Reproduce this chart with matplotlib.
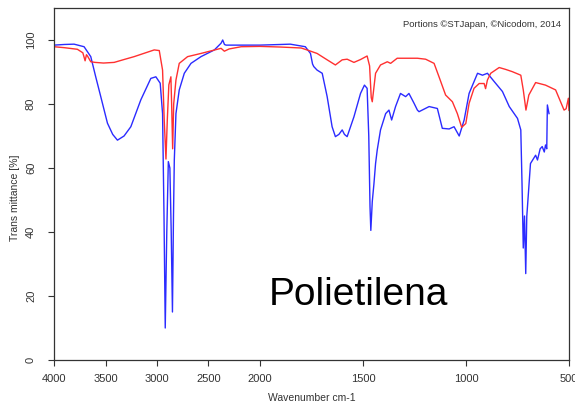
import numpy as np
import matplotlib
matplotlib.use("Agg")
import matplotlib.pyplot as plt

# ---- data ----
blue_wn = [4000, 3900, 3805, 3708, 3643, 3595, 3546, 3481, 3430, 3384, 3320, 3254, 3157, 3060,
           3011, 2969, 2946, 2932, 2920, 2905, 2890, 2875, 2862, 2850, 2840, 2832, 2816, 2784,
           2735, 2670, 2573, 2443, 2378, 2362, 2345, 2330, 2183, 2000, 1900, 1853, 1780, 1755,
           1745, 1739, 1723, 1698, 1674, 1650, 1634, 1617, 1601, 1590, 1577, 1544, 1512, 1493,
           1480, 1472, 1466, 1462, 1455, 1447, 1439, 1431, 1415, 1390, 1374, 1361, 1342, 1318,
           1293, 1277, 1252, 1236, 1228, 1179, 1139, 1115, 1082, 1058, 1033, 1009, 985, 944,
           920, 896, 863, 823, 790, 750, 734, 728, 722, 716, 710, 705, 695, 687, 662, 653, 640,
           630, 620, 614, 608, 605, 597]
blue_t = [98.4, 98.6, 98.7, 97.9, 94.8, 88.5, 82.3, 74.0, 70.5, 68.7, 70.0, 72.9, 81.3, 88.0,
          88.5, 86.5, 77.0, 45.0, 10.0, 40.0, 62.0, 60.0, 40.0, 15.0, 45.0, 62.5, 77.0, 84.4,
          89.6, 92.7, 94.8, 96.9, 99.0, 100.0, 98.6, 98.4, 98.4, 98.4, 98.6, 98.7, 97.9, 95.8,
          92.5, 91.7, 90.6, 89.6, 82.3, 72.9, 69.8, 70.5, 71.9, 70.5, 69.8, 76.0, 83.3, 85.9,
          84.9, 70.0, 48.0, 40.5, 49.5, 55.0, 61.4, 65.6, 71.9, 77.0, 78.1, 75.0, 79.2, 83.3,
          82.3, 83.3, 80.2, 78.1, 77.6, 79.2, 78.6, 72.4, 72.2, 72.9, 70.0, 75.0, 83.3, 89.6,
          89.0, 89.6, 87.0, 83.9, 79.2, 75.5, 71.9, 55.0, 35.0, 45.0, 27.0, 44.8, 54.0, 61.4,
          64.0, 62.5, 66.0, 66.7, 65.0, 67.2, 66.0, 79.7, 77.0]

red_wn = [4000, 3900, 3773, 3720, 3698, 3685, 3675, 3643, 3600, 3520, 3416, 3320, 3222, 3120,
          3027, 2978, 2946, 2930, 2913, 2900, 2885, 2865, 2858, 2848, 2838, 2816, 2784, 2703,
          2573, 2378, 2346, 2300, 2183, 2000, 1900, 1800, 1772, 1723, 1674, 1634, 1601, 1577,
          1544, 1512, 1480, 1468, 1460, 1455, 1439, 1415, 1382, 1366, 1334, 1236, 1196, 1155,
          1131, 1099, 1066, 1042, 1021, 1001, 985, 961, 936, 912, 905, 896, 880, 839, 807, 775,
          734, 722, 709, 695, 662, 614, 565, 524, 514, 503, 500]
red_t = [97.9, 97.6, 97.1, 96.0, 93.5, 95.4, 95.0, 93.2, 93.0, 92.8, 93.0, 93.9, 94.8, 95.9,
         96.9, 96.7, 90.6, 75.0, 62.8, 75.0, 86.0, 88.5, 80.0, 66.0, 80.0, 87.5, 92.7, 94.8,
         95.8, 97.4, 96.5, 97.2, 97.9, 98.0, 97.8, 97.5, 96.9, 95.8, 93.8, 92.2, 93.8, 94.0,
         93.0, 93.9, 95.0, 91.9, 82.0, 80.7, 89.6, 92.2, 93.2, 92.7, 94.3, 94.3, 94.0, 92.7,
         88.5, 82.8, 80.7, 77.0, 72.7, 73.9, 80.2, 84.9, 86.4, 86.4, 84.8, 87.5, 89.6, 91.4,
         90.8, 90.1, 89.0, 84.4, 78.1, 82.8, 86.7, 85.9, 84.4, 78.1, 78.5, 81.8, 78.0]

x_ticks = [4000, 3500, 3000, 2500, 2000, 1500, 1000, 500]
y_ticks = [0, 20, 40, 60, 80, 100]

plt.rcParams['font.family'] = ['Liberation Sans', 'DejaVu Sans']

fig = plt.figure(figsize=(5.75, 4.09), dpi=100)
ax = fig.add_axes([54/575, 1-360/409, (569-54)/575, (360-8)/409])


def fwd(x):
    x = np.asarray(x, dtype=float)
    return np.where(x > 2000, 2000 + (x - 2000) / 2.0, x)


def inv(u):
    u = np.asarray(u, dtype=float)
    return np.where(u > 2000, 2000 + (u - 2000) * 2.0, u)


ax.set_xscale('function', functions=(fwd, inv))
ax.plot(blue_wn, blue_t, color='#2b2bff', lw=1.0)
ax.plot(red_wn, red_t, color='#ff3030', lw=1.0)

ax.set_xlim(4000, 500)
ax.set_ylim(0, 110)
ax.set_xticks(x_ticks)
ax.set_xticklabels([str(t) for t in x_ticks])
ax.set_yticks(y_ticks)
ax.set_yticklabels([str(t) for t in y_ticks], rotation=90, va='center')
ax.minorticks_off()
ax.tick_params(axis='both', direction='out', length=4, width=0.8, labelsize=8, colors='#333333')
ax.tick_params(axis='x', pad=6)
ax.tick_params(axis='y', pad=9)
for s in ax.spines.values():
    s.set_linewidth(0.9)
    s.set_color('#333333')

ax.set_xlabel('Wavenumber cm-1', fontsize=7.5, color='#333333')
ax.xaxis.set_label_coords(0.5, -0.095)
ax.set_ylabel('Trans mittance [%]', fontsize=7.5, color='#333333', va='center')
ax.yaxis.set_label_coords(-0.075, 0.46)

ax.text(0.985, 0.965, 'Portions ©STJapan, ©Nicodom, 2014', transform=ax.transAxes,
        ha='right', va='top', fontsize=6.8, color='#333333')
fig.text(269/575, 1-305/409, 'Polietilena', ha='left', va='baseline', fontsize=28, color='black')

fig.savefig('out.png', dpi=100)
